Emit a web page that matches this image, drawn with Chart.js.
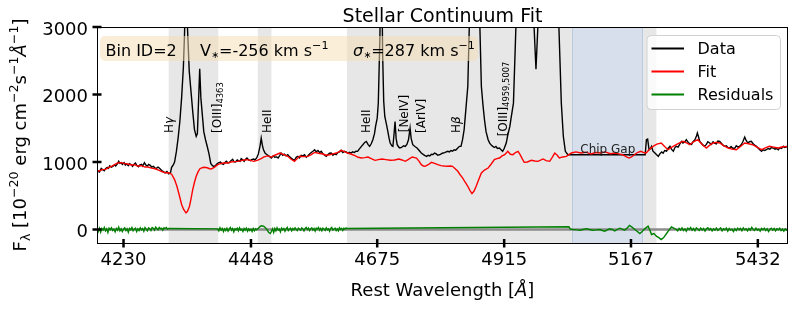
<!DOCTYPE html>
<html>
<head>
<meta charset="utf-8">
<script src="https://cdn.jsdelivr.net/npm/chart.js@4.4.1/dist/chart.umd.min.js"></script>
<style>
  html, body { margin: 0; padding: 0; background: #fff; }
  #wrap { width: 795px; height: 309px; }
</style>
</head>
<body>
<div id="wrap"><canvas id="fitChart" width="795" height="309"></canvas></div>
<script>
// axis ranges and ticks (wavelength axis is logarithmic)
const xMin = 4186, xMax = 5497;
const yMin = -200, yMax = 3000;
const xTicks = [4230, 4448, 4675, 4915, 5167, 5432];
const yTicks = [0, 1000, 2000, 3000];
const zeroLevel = 0;

// masked wavelength windows and the chip gap
const maskBands = [[4306, 4391], [4460, 4484], [4619.5, 5048], [5192.5, 5219]];
const chipGap = [5048, 5192.5];

// emission line labels: text, wavelength, flux of label foot
const lineNames = ['H|γ', '[OIII]_4363', 'HeII', 'HeII', '[NeIV]', '[ArIV]', 'H|β', '[OIII]_4959,5007'];
const lineWaves = [4307.5, 4389.8, 4477.2, 4655.5, 4725.9, 4757.6, 4824.4, 4914];
const lineFoot = [1430, 1430, 1430, 1430, 1440, 1430, 1430, 1380];
const gapLabel = 'Chip Gap', gapLabelWave = 5120, gapLabelFlux = 1140;

const binId = 2, vStar = -256, sigmaStar = 287;

// observed spectrum [wavelength, flux]
const dataSpec = [
  [4186,880],[4188,860],[4190,850],[4193,905],[4195,890],[4198,870],[4200,900],[4203,920],[4205,905],[4207,945],
  [4210,925],[4212,935],[4215,955],[4217,940],[4220,975],[4222,1010],[4224,980],[4226,990],[4228,965],[4231,990],
  [4233,955],[4235,970],[4238,945],[4240,975],[4243,960],[4245,935],[4248,970],[4250,985],[4252,950],[4255,930],
  [4257,955],[4260,965],[4262,940],[4265,990],[4267,960],[4270,940],[4272,965],[4275,950],[4277,925],[4280,935],
  [4283,910],[4285,905],[4288,925],[4290,910],[4293,885],[4295,870],[4298,850],[4300,840],[4303,860],[4306,825],
  [4309,840],[4311,920],[4314,960],[4316,1000],[4319,1150],[4322,1350],[4325,1600],[4328,1950],[4331,2400],[4333,2900],
  [4335.5,3900],[4338,3000],[4341,2350],[4344,2050],[4347,1750],[4350,1480],[4353,1380],[4355,1420],[4357,1900],[4359,2380],
  [4361,1950],[4364,1650],[4366,1450],[4369,1330],[4372,1230],[4375,1120],[4378,980],[4381,945],[4384,930],[4387,955],
  [4389,975],[4392,990],[4395,1000],[4397,975],[4400,965],[4403,995],[4405,1010],[4408,985],[4410,990],[4413,1020],
  [4416,1040],[4418,1005],[4421,1000],[4424,1030],[4426,1020],[4429,1010],[4431,1050],[4434,1030],[4436,1010],[4439,1045],
  [4441,1060],[4444,1030],[4447,1020],[4450,1040],[4453,1045],[4455,1030],[4458,1060],[4461,1120],[4464,1240],[4466,1355],
  [4468,1250],[4470,1180],[4473,1130],[4476,1110],[4479,1090],[4481,1080],[4484,1060],[4487,1090],[4490,1070],[4493,1075],
  [4496,1060],[4499,1100],[4501,1133],[4504,1100],[4507,1115],[4510,1090],[4513,1108],[4516,1080],[4519,1060],[4522,1040],
  [4525,1025],[4528,1070],[4531,1084],[4534,1060],[4537,1100],[4540,1090],[4543,1108],[4546,1070],[4549,1094],[4552,1120],
  [4555,1140],[4558,1160],[4561,1182],[4564,1150],[4567,1170],[4570,1140],[4573,1158],[4576,1120],[4579,1100],[4582,1084],
  [4585,1110],[4588,1130],[4591,1133],[4594,1100],[4597,1120],[4600,1108],[4603,1140],[4606,1150],[4609,1172],[4612,1140],
  [4615,1158],[4618,1150],[4621,1130],[4624,1145],[4627,1133],[4630,1150],[4633,1140],[4636,1160],[4639,1158],[4642,1190],
  [4646,1232],[4649,1260],[4652,1290],[4655,1305],[4658,1260],[4661,1232],[4664,1270],[4667,1330],[4670,1420],[4672,1527],
  [4675,1650],[4677,1870],[4680,2860],[4682.5,4500],[4685,2600],[4687,1900],[4689,1675],[4692,1560],[4694,1478],[4697,1350],
  [4699,1281],[4702,1240],[4704,1232],[4706,1400],[4708,1600],[4710,1350],[4712,1256],[4715,1220],[4717,1207],[4720,1215],
  [4724,1240],[4727,1230],[4730,1260],[4733,1330],[4736,1503],[4738,1350],[4741,1256],[4745,1230],[4749,1207],[4753,1170],
  [4757,1133],[4761,1110],[4764,1095],[4767,1084],[4770,1100],[4773,1090],[4776,1115],[4779,1110],[4782,1133],[4785,1120],
  [4788,1100],[4792,1108],[4795,1125],[4798,1133],[4801,1140],[4804,1150],[4807,1158],[4810,1150],[4813,1170],[4816,1160],
  [4819,1182],[4822,1175],[4825,1200],[4829,1232],[4832,1232],[4835,1330],[4838,1478],[4841,1750],[4845,2118],[4848,3050],
  [4858,7000],[4868,3050],[4871,2118],[4874,1850],[4877,1626],[4880,1450],[4884,1330],[4887,1280],[4890,1250],[4893,1232],
  [4896,1215],[4899,1230],[4902,1200],[4906,1207],[4909,1180],[4912,1158],[4915,1200],[4919,1281],[4922,1400],[4926,1527],
  [4929,1680],[4933,1872],[4938,3050],[4955,9000],[4973,3050],[4977,2375],[4981,3050],[5000,20000],[5022,3050],[5027,1872],
  [5031,1379],[5035,1158],[5040,1108],[5196,1108],[5198.5,1330],[5201,1340],[5204,1182],[5207,1200],[5209,1230],[5212,1160],
  [5216,1133],[5219,1110],[5223,1084],[5226,1120],[5230,1150],[5233,1130],[5236,1170],[5240,1160],[5243,1200],[5247,1232],
  [5250,1190],[5254,1160],[5257,1210],[5260,1232],[5264,1220],[5267,1260],[5271,1306],[5274,1280],[5278,1300],[5281,1330],
  [5285,1290],[5288,1270],[5292,1260],[5295,1300],[5299,1330],[5302,1380],[5304,1429],[5307,1360],[5309,1306],[5312,1280],
  [5316,1250],[5319,1232],[5323,1260],[5326,1300],[5330,1281],[5333,1260],[5337,1300],[5340,1281],[5344,1270],[5347,1310],
  [5351,1306],[5354,1280],[5358,1250],[5361,1232],[5365,1240],[5368,1215],[5372,1207],[5375,1230],[5379,1200],[5383,1207],
  [5386,1240],[5390,1220],[5393,1232],[5397,1260],[5400,1300],[5404,1370],[5407,1320],[5411,1281],[5414,1300],[5418,1306],
  [5422,1270],[5425,1250],[5429,1232],[5432,1210],[5436,1180],[5440,1158],[5443,1180],[5447,1170],[5450,1182],[5454,1200],
  [5458,1190],[5461,1215],[5465,1207],[5469,1190],[5472,1200],[5476,1182],[5479,1210],[5483,1200],[5487,1232],[5490,1215],
  [5494,1225],[5497,1232]
];

// stellar continuum fit [wavelength, flux]
const fitSpec = [
  [4186,862],[4190,870],[4195,887],[4200,890],[4205,915],[4210,936],[4215,960],[4220,985],[4226,990],[4231,980],
  [4237,970],[4243,955],[4248,960],[4254,940],[4260,945],[4266,925],[4271,925],[4277,910],[4283,900],[4289,880],
  [4295,855],[4301,840],[4307,838],[4311,820],[4316,739],[4320,640],[4324.5,492],[4328,370],[4331.5,296],[4335.5,246],
  [4338,270],[4341.5,345],[4344,450],[4347,591],[4350,700],[4353,788],[4356,850],[4359,897],[4363,915],[4367,921],
  [4372,915],[4376,900],[4379,897],[4384,920],[4390,961],[4395,975],[4400,985],[4407,986],[4413,1000],[4419,1005],
  [4425,1010],[4431,1020],[4436,1030],[4441,1035],[4447,1025],[4453,1010],[4459,1025],[4465,1045],[4471,1075],[4477,1090],
  [4484,1074],[4490,1100],[4499,1133],[4506,1110],[4513,1084],[4519,1040],[4525,1010],[4530,1050],[4534,1084],[4541,1080],
  [4549,1084],[4555,1110],[4561,1142],[4568,1130],[4576,1118],[4582,1100],[4588,1108],[4594,1120],[4600,1133],[4605,1150],
  [4609,1172],[4615,1155],[4621,1133],[4628,1115],[4634,1094],[4640,1070],[4646,1059],[4652,1065],[4658,1074],[4664,1050],
  [4671,1025],[4677,1035],[4684,1045],[4691,1035],[4699,1025],[4707,1030],[4715,1045],[4721,1030],[4727,1010],[4733,1040],
  [4740,1074],[4748,1059],[4753,1010],[4757,961],[4761,940],[4764,936],[4770,960],[4776,995],[4782,980],[4788,961],
  [4794,946],[4800,940],[4807,936],[4812,940],[4816,936],[4821,900],[4826,862],[4830,815],[4835,764],[4840,700],
  [4845,640],[4849,580],[4853,532],[4857,570],[4861,640],[4866,740],[4871,838],[4877,880],[4884,911],[4890,970],
  [4896,1035],[4901,1050],[4906,1059],[4911,1090],[4916,1109],[4922,1158],[4927,1115],[4932,1109],[4937,1140],[4942,1158],
  [4946,1110],[4950,1050],[4954,995],[4960,1000],[4968,1025],[4975,1015],[4981,1010],[4987,1030],[4991,1045],[4997,1020],
  [5004,1010],[5009,1070],[5014,1133],[5019,1100],[5023,1059],[5030,1075],[5037,1084],[5042,1110],[5047,1133],[5056,1150],
  [5066,1133],[5076,1145],[5086,1118],[5096,1140],[5106,1133],[5115,1150],[5125,1123],[5135,1133],[5142,1120],[5150,1108],
  [5157,1080],[5163,1059],[5168,1075],[5174,1108],[5180,1140],[5187,1158],[5193,1140],[5198,1133],[5205,1190],[5212,1232],
  [5220,1265],[5229,1281],[5236,1230],[5243,1182],[5251,1220],[5260,1256],[5267,1285],[5274,1306],[5281,1285],[5288,1256],
  [5296,1300],[5305,1330],[5314,1260],[5323,1207],[5330,1250],[5337,1281],[5344,1290],[5351,1281],[5360,1240],[5369,1207],
  [5377,1190],[5386,1182],[5395,1230],[5404,1281],[5412,1270],[5421,1256],[5430,1220],[5440,1182],[5448,1210],[5457,1232],
  [5466,1220],[5476,1207],[5486,1225],[5497,1232]
];

// residuals (data - fit) [wavelength, flux]
const residSpec = [
  [4186,10],[4188,-30],[4190,20],[4192,-40],[4194,15],[4196,-10],[4198,30],[4200,-20],[4202,10],[4204,-45],
  [4206,20],[4208,-5],[4210,25],[4212,-15],[4214,5],[4216,-35],[4218,15],[4220,-10],[4222,35],[4224,-20],
  [4226,10],[4228,-30],[4230,5],[4232,25],[4234,-15],[4236,10],[4238,-40],[4240,15],[4242,-5],[4244,30],
  [4246,-20],[4248,5],[4250,20],[4252,-30],[4254,10],[4256,-15],[4258,25],[4260,-5],[4262,15],[4264,-25],
  [4266,30],[4268,5],[4270,-20],[4272,25],[4274,10],[4276,-15],[4278,30],[4280,20],[4282,-10],[4284,35],
  [4286,15],[4288,-5],[4290,30],[4292,10],[4294,20],[4296,-10],[4298,25],[4300,15],[4302,30],[4304,5],
  [4306,15],[4390,10],
  [4392,-20],[4394,25],[4396,-10],[4398,15],[4400,-30],[4402,10],[4404,-15],[4406,20],[4408,-25],[4410,5],
  [4412,30],[4414,-10],[4416,15],[4418,-35],[4420,10],[4422,-5],[4424,20],[4426,-20],[4428,25],[4430,-10],
  [4432,5],[4434,-30],[4436,15],[4438,-10],[4440,20],[4442,-25],[4444,10],[4446,-15],[4448,5],[4450,-30],
  [4452,15],[4454,-20],[4456,10],[4458,-5],
  [4461,20],[4464,45],[4467,55],[4470,50],[4473,30],[4476,0],[4479,-40],[4482,-60],[4484,-30],
  [4486,10],[4488,-45],[4490,15],[4492,-20],[4494,25],[4496,-10],[4498,5],[4500,-35],[4502,20],[4504,-5],
  [4506,15],[4508,-25],[4510,10],[4512,30],[4514,-15],[4516,5],[4518,20],[4520,-20],[4522,15],[4524,-5],
  [4526,25],[4528,0],[4530,-15],[4532,20],[4534,5],[4536,-10],[4538,25],[4540,10],[4542,-20],[4544,15],
  [4546,30],[4548,0],[4550,20],[4552,-15],[4554,10],[4556,25],[4558,-10],[4560,15],[4562,-25],[4564,20],
  [4566,5],[4568,30],[4570,-10],[4572,15],[4574,-20],[4576,20],[4578,5],[4580,-15],[4582,25],[4584,-5],
  [4586,10],[4588,-25],[4590,15],[4592,30],[4594,-10],[4596,5],[4598,20],[4600,-15],[4602,10],[4604,-20],
  [4606,25],[4608,0],[4610,15],[4612,-15],[4614,20],[4616,5],[4618,25],[4620,15],
  [5042,40],
  [5045,5],[5050,0],[5058,-5],[5064,-10],[5070,0],[5077,10],[5083,0],[5090,-10],[5097,-5],[5104,0],
  [5109,-15],[5114,-25],[5119,-5],[5124,10],[5129,0],[5134,-20],[5139,0],[5144,20],[5149,5],[5154,-10],
  [5159,20],[5164,59],[5169,35],[5175,0],[5180,-30],[5185,-59],[5190,-30],[5195,10],[5202,49],[5205,0],
  [5209,-74],[5214,-60],[5219,-99],[5224,-120],[5229,-148],[5234,-120],[5240,-59],[5245,-10],[5250,40],[5255,20],
  [5260,0],[5263,-20],[5266,15],[5269,-10],[5272,25],[5275,-15],[5278,10],[5281,-25],[5284,20],[5287,0],
  [5290,30],[5293,-10],[5296,15],[5299,-20],[5302,25],[5305,5],[5308,-15],[5311,20],[5314,-10],[5317,15],
  [5320,-25],[5323,10],[5326,25],[5329,-5],[5332,15],[5335,-20],[5338,10],[5341,-10],[5344,20],[5347,-15],
  [5350,5],[5353,25],[5356,-20],[5359,10],[5362,-5],[5365,20],[5368,-25],[5371,15],[5374,-10],[5377,5],
  [5380,-30],[5383,10],[5386,-15],[5389,20],[5392,-5],[5395,15],[5398,-20],[5401,25],[5404,-5],[5407,10],
  [5410,-20],[5413,15],[5416,-10],[5419,30],[5422,0],[5425,-15],[5428,20],[5431,-10],[5434,5],[5437,-25],
  [5440,15],[5443,-5],[5446,20],[5449,-15],[5452,10],[5455,-30],[5458,5],[5461,20],[5464,-10],[5467,15],
  [5470,-20],[5473,10],[5476,-5],[5479,20],[5482,-15],[5485,5],[5488,-25],[5491,10],[5494,-10],[5497,15]
];

const FONT = '"DejaVu Sans"';
Chart.defaults.font.family = 'DejaVu Sans';
Chart.defaults.color = '#000';

// draw a run of [text, sizeFactor, shiftEm, italic] pieces
function drawRich(ctx, parts, x, y, base, align) {
  const widths = parts.map(p => {
    ctx.font = (p[3] ? 'italic ' : '') + (base * p[1]) + 'px ' + FONT;
    return ctx.measureText(p[0]).width;
  });
  const total = widths.reduce((a, b) => a + b, 0);
  let cx = align === 'center' ? x - total / 2 : x;
  parts.forEach((p, i) => {
    ctx.font = (p[3] ? 'italic ' : '') + (base * p[1]) + 'px ' + FONT;
    ctx.fillText(p[0], cx, y + p[2] * base);
    cx += widths[i];
  });
}

// 'H|γ' -> italic greek, '[OIII]_4363' -> subscript
function labelParts(name) {
  if (name.includes('|')) {
    const [a, b] = name.split('|');
    return [[a, 1, 0, false], [b, 1, 0, true]];
  }
  if (name.includes('_')) {
    const [a, b] = name.split('_');
    return [[a, 1, 0, false], [b, 0.7, 0.3, false]];
  }
  return [[name, 1, 0, false]];
}

const SUP = -0.42, SUB = 0.22;

const deco = {
  id: 'deco',
  beforeDatasetsDraw(chart) {
    const { ctx, chartArea: a, scales: { x } } = chart;
    ctx.save();
    ctx.fillStyle = 'rgb(231,231,231)';
    maskBands.forEach(([lo, hi]) => {
      const l = x.getPixelForValue(lo), r = x.getPixelForValue(hi);
      ctx.fillRect(l, a.top, r - l, a.bottom - a.top);
    });
    const gl = x.getPixelForValue(chipGap[0]), gr = x.getPixelForValue(chipGap[1]);
    ctx.fillStyle = 'rgb(214,223,235)';
    ctx.fillRect(gl, a.top, gr - gl, a.bottom - a.top);
    ctx.strokeStyle = 'rgb(188,202,222)';
    ctx.lineWidth = 1;
    ctx.beginPath();
    ctx.moveTo(Math.round(gl) + 0.5, a.top); ctx.lineTo(Math.round(gl) + 0.5, a.bottom);
    ctx.moveTo(Math.round(gr) - 0.5, a.top); ctx.lineTo(Math.round(gr) - 0.5, a.bottom);
    ctx.stroke();
    ctx.restore();
  },
  afterDatasetsDraw(chart) {
    const { ctx, chartArea: a, scales: { x, y } } = chart;
    ctx.save();
    ctx.fillStyle = '#000';
    ctx.textBaseline = 'middle';
    ctx.textAlign = 'left';

    // rotated emission line labels
    lineNames.forEach((n, i) => {
      ctx.save();
      ctx.translate(x.getPixelForValue(lineWaves[i]), y.getPixelForValue(lineFoot[i]));
      ctx.rotate(-Math.PI / 2);
      drawRich(ctx, labelParts(n), 0, 0, 12, 'left');
      ctx.restore();
    });

    // chip gap label
    ctx.fillStyle = '#222';
    ctx.textBaseline = 'alphabetic';
    ctx.textAlign = 'left';
    drawRich(ctx, [[gapLabel, 1, 0, false]], x.getPixelForValue(gapLabelWave), y.getPixelForValue(gapLabelFlux), 12, 'center');

    // parameter box
    const bx = a.left + 3, by = a.top + 9, bw = 378, bh = 25;
    ctx.fillStyle = 'rgba(245,222,179,0.5)';
    ctx.beginPath();
    ctx.roundRect(bx, by, bw, bh, 5);
    ctx.fill();
    ctx.fillStyle = '#000';
    const base = a.top + 29;
    drawRich(ctx, [['Bin ID=' + binId, 1, 0, false]], bx + 5.5, base, 16, 'left');
    drawRich(ctx, [['V', 1, 0, false], ['∗', 0.6, 0.12, false], ['=' + vStar + ' km s', 1, 0, false], ['−1', 0.7, SUP, false]], bx + 100, base, 16, 'left');
    drawRich(ctx, [['σ', 1, 0, true], ['∗', 0.6, 0.12, false], ['=' + sigmaStar + ' km s', 1, 0, false], ['−1', 0.7, SUP, false]], bx + 253, base, 16, 'left');

    // legend
    const lx = a.right - 141.5, ly = a.top + 8, lw = 133.5, lh = 74;
    ctx.fillStyle = 'rgba(255,255,255,0.8)';
    ctx.strokeStyle = 'rgb(210,210,210)';
    ctx.lineWidth = 1;
    ctx.beginPath();
    ctx.roundRect(lx + 0.5, ly + 0.5, lw, lh, 4);
    ctx.fill();
    ctx.stroke();
    ctx.textBaseline = 'middle';
    chart.data.datasets.filter(d => !d.label.startsWith('_')).forEach((d, i) => {
      const ry = ly + 13.5 + i * 23;
      ctx.strokeStyle = d.borderColor;
      ctx.lineWidth = 2;
      ctx.beginPath();
      ctx.moveTo(lx + 5, ry); ctx.lineTo(lx + 37.5, ry);
      ctx.stroke();
      ctx.fillStyle = '#000';
      ctx.font = '16px ' + FONT;
      ctx.fillText(d.label, lx + 51, ry + 1);
    });

    // frame
    ctx.strokeStyle = '#000';
    ctx.lineWidth = 1;
    ctx.strokeRect(a.left + 0.5, a.top + 0.5, a.right - a.left - 1, a.bottom - a.top);

    // in-out ticks
    ctx.lineWidth = 2.5;
    ctx.beginPath();
    xTicks.forEach(v => {
      const p = x.getPixelForValue(v);
      ctx.moveTo(p, a.bottom - 4); ctx.lineTo(p, a.bottom + 4.5);
    });
    yTicks.forEach(v => {
      const p = y.getPixelForValue(v);
      ctx.moveTo(a.left - 4.5, p); ctx.lineTo(a.left + 4.5, p);
    });
    ctx.stroke();

    // titles
    ctx.textBaseline = 'alphabetic';
    drawRich(ctx, [['Stellar Continuum Fit', 1, 0, false]], (a.left + a.right) / 2, 22, 19, 'center');
    drawRich(ctx, [['Rest Wavelength [', 1, 0, false], ['Å', 1, 0, true], [']', 1, 0, false]], (a.left + a.right) / 2, 296, 18, 'center');
    ctx.save();
    ctx.translate(26, (a.top + a.bottom) / 2);
    ctx.rotate(-Math.PI / 2);
    drawRich(ctx, [
      ['F', 1, 0, false], ['λ', 0.7, SUB, false], [' [10', 1, 0, false], ['−20', 0.7, SUP, false],
      [' erg cm', 1, 0, false], ['−2', 0.7, SUP, false], ['s', 1, 0, false], ['−1', 0.7, SUP, false],
      ['Å', 1, 0, true], ['−1', 0.7, SUP, false], [']', 1, 0, false]
    ], 0, 0, 18, 'center');
    ctx.restore();
    ctx.restore();
  }
};

const toXY = pts => pts.map(([w, f]) => ({ x: w, y: f }));
const series = (label, pts, color, width, order) => ({
  label, data: toXY(pts), borderColor: color, borderWidth: width,
  pointRadius: 0, fill: false, tension: 0, order
});

new Chart(document.getElementById('fitChart').getContext('2d'), {
  type: 'line',
  data: {
    datasets: [
      series('Data', dataSpec, '#000000', 1.4, 3),
      series('Fit', fitSpec, '#ff0000', 1.4, 2),
      series('Residuals', residSpec, '#008000', 1.4, 1),
      series('_zero', [[xMin, zeroLevel], [xMax, zeroLevel]], '#8c8c8c', 2.5, 4)
    ]
  },
  options: {
    responsive: false,
    animation: false,
    devicePixelRatio: 1,
    layout: { padding: { top: 27, right: 7, left: 0, bottom: 0 } },
    plugins: { legend: { display: false }, tooltip: { enabled: false }, title: { display: false } },
    scales: {
      x: {
        type: 'logarithmic', min: xMin, max: xMax, bounds: 'data',
        afterBuildTicks: s => { s.ticks = xTicks.map(v => ({ value: v })); },
        afterFit: s => { s.height = 66; },
        grid: { display: false, drawTicks: false },
        border: { display: false },
        ticks: { callback: v => String(v), autoSkip: false, maxRotation: 0, padding: 7, font: { size: 18 }, color: '#000' }
      },
      y: {
        type: 'linear', min: yMin, max: yMax,
        afterBuildTicks: s => { s.ticks = yTicks.map(v => ({ value: v })); },
        afterFit: s => { s.width = 97; },
        grid: { display: false, drawTicks: false },
        border: { display: false },
        ticks: { callback: v => String(v), padding: 9, labelOffset: 3, font: { size: 18 }, color: '#000' }
      }
    }
  },
  plugins: [deco]
});
</script>
</body>
</html>
